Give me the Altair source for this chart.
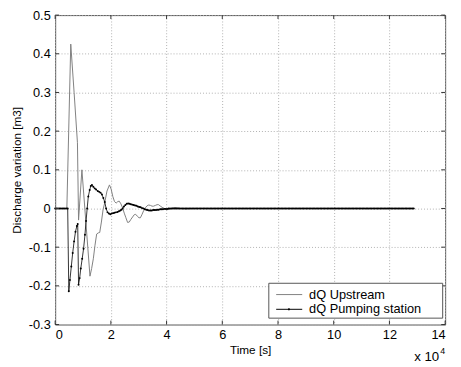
import altair as alt
import pandas as pd
import numpy as np

# ---- data (time in units of 1e4 s) ----
up_t = [0.0, 0.42, 0.56, 0.68, 0.80, 0.84, 0.96, 1.25, 1.31, 1.37, 1.43, 1.49, 1.55, 1.60,
        1.66, 1.72, 1.78, 1.86, 1.95, 2.01, 2.07, 2.13, 2.19, 2.25, 2.30, 2.36, 2.42, 2.48,
        2.54, 2.60, 2.66, 2.72, 2.78, 2.84, 2.89, 2.95, 3.01, 3.06, 3.12, 3.18, 3.24, 3.30,
        3.36, 3.42, 3.48, 3.53, 3.60, 3.66, 3.71, 3.78, 3.84, 3.90, 3.97, 4.05, 4.15, 4.25,
        4.35, 4.50, 4.70, 4.90, 5.20, 12.90]
up_v = [0.0, 0.0, 0.425, 0.30, 0.17, -0.03, 0.10, -0.175, -0.155, -0.13, -0.095, -0.066, -0.063, -0.062,
        -0.035, -0.003, 0.015, 0.045, 0.061, 0.05, 0.031, 0.018, 0.014, 0.018, 0.019, 0.012, 0.002, -0.012,
        -0.024, -0.036, -0.035, -0.028, -0.022, -0.016, -0.015, -0.02, -0.024, -0.024, -0.015, -0.005, 0.002, 0.007,
        0.009, 0.008, 0.006, 0.006, 0.008, 0.01, 0.01, 0.006, 0.003, 0.001, -0.002, -0.003, -0.001, 0.002,
        0.002, 0.0, -0.001, 0.0, 0.0, 0.0]

ps_t_active = [0.00, 0.05, 0.10, 0.15, 0.20, 0.25, 0.30, 0.35, 0.40, 0.45,
               0.49, 0.53, 0.58, 0.63, 0.68, 0.73, 0.78, 0.81, 0.84, 0.88, 0.92, 0.97,
               1.02, 1.07, 1.11, 1.15, 1.19, 1.24, 1.28, 1.32, 1.37, 1.42, 1.47, 1.53,
               1.58, 1.63, 1.68, 1.73, 1.78, 1.83, 1.88, 1.93, 1.98, 2.03, 2.08, 2.13,
               2.18, 2.24, 2.29, 2.34, 2.38, 2.42, 2.47, 2.52, 2.57, 2.62, 2.67, 2.72,
               2.77, 2.82, 2.87, 2.92, 2.97, 3.02, 3.07, 3.12, 3.17, 3.22, 3.27, 3.32,
               3.37, 3.42, 3.47, 3.52, 3.57, 3.62, 3.67, 3.72, 3.77, 3.82, 3.87, 3.92,
               3.97, 4.02, 4.07]
ps_v_active = [0.0, 0.0, 0.0, 0.0, 0.0, 0.0, 0.0, 0.0, 0.0, 0.0,
               -0.214, -0.185, -0.15, -0.115, -0.085, -0.06, -0.045, -0.04, -0.197, -0.18, -0.155, -0.13,
               -0.104, -0.068, -0.032, 0.0, 0.031, 0.048, 0.058, 0.061, 0.056, 0.052, 0.049, 0.045,
               0.043, 0.041, 0.036, 0.027, 0.017, 0.0, -0.01, -0.013, -0.015, -0.013, -0.012, -0.011,
               -0.01, -0.009, -0.007, -0.005, -0.003, 0.0, 0.005, 0.009, 0.012, 0.013, 0.012, 0.011,
               0.01, 0.009, 0.008, 0.007, 0.005, 0.004, 0.003, 0.001, 0.0, -0.002, -0.003, -0.004,
               -0.005, -0.005, -0.005, -0.004, -0.004, -0.004, -0.003, -0.003, -0.002, -0.002, -0.002, -0.001,
               -0.001, -0.001, 0.0]
# flat tail, read as zero, sampled at the same step as the markers
ps_t_tail = [round(x, 2) for x in np.arange(4.12, 12.90, 0.05)]
ps_v_tail = [0.0] * len(ps_t_tail)

x_ticks = [0, 2, 4, 6, 8, 10, 12, 14]
y_ticks = [-0.3, -0.2, -0.1, 0.0, 0.1, 0.2, 0.3, 0.4, 0.5]

series_names = ["dQ Upstream", "dQ Pumping station"]
x_title = "Time [s]"
y_title = "Discharge variation [m3]"

# ---- build ----
W, H = 397, 315
FONT = "Liberation Sans"

up_df = pd.DataFrame({"t": up_t, "v": up_v})
ps_df = pd.DataFrame({"t": ps_t_active + ps_t_tail, "v": ps_v_active + ps_v_tail})
xt_df = pd.DataFrame({"t": x_ticks})
yt_df = pd.DataFrame({"v": y_ticks})
one = pd.DataFrame({"a": [0]})

xs = alt.Scale(domain=[0, 14], nice=False, zero=False)
ys = alt.Scale(domain=[-0.3, 0.5], nice=False, zero=False)

x_axis = alt.Axis(values=x_ticks, title=x_title, grid=True, gridDash=[1, 2], gridColor="#b0b0b0",
                  gridOpacity=1, ticks=False, tickSize=0, domain=False, labelPadding=4, labelFontSize=13,
                  labelFont=FONT, labelColor="#000", titleFont=FONT, titleFontSize=12,
                  titleFontWeight="normal", titleColor="#000", titleX=W / 2, titleY=25,
                  titleBaseline="middle", titleAlign="center")
y_axis = alt.Axis(values=y_ticks, title=y_title, grid=True, gridDash=[1, 2], gridColor="#b0b0b0",
                  gridOpacity=1, ticks=False, tickSize=0, domain=False, labelPadding=5, labelFontSize=13,
                  labelFont=FONT, labelColor="#000",
                  labelExpr="toString(round(datum.value*10)/10)",
                  titleFont=FONT, titleFontSize=12, titleFontWeight="normal", titleColor="#000",
                  titleX=-39, titleY=H / 2, titleAngle=270, titleBaseline="middle", titleAlign="center")

X = alt.X("t:Q", scale=xs, axis=x_axis)
Y = alt.Y("v:Q", scale=ys, axis=y_axis)

up_line = alt.Chart(up_df).mark_line(color="#808080", strokeWidth=1).encode(
    x=X, y=Y, order="t:Q")
ps_line = alt.Chart(ps_df).mark_line(color="#000000", strokeWidth=0.8).encode(
    x=X, y=Y, order="t:Q")
ps_pts = alt.Chart(ps_df).mark_circle(color="#000000", size=4, opacity=1).encode(
    x=X, y=Y)

# inward ticks (MATLAB box style)
tick_col = "#333333"
xt_bot = alt.Chart(xt_df).mark_rule(color=tick_col, strokeWidth=1).encode(
    x=X, y=alt.value(H), y2=alt.value(H - 4))
xt_top = alt.Chart(xt_df).mark_rule(color=tick_col, strokeWidth=1).encode(
    x=X, y=alt.value(0), y2=alt.value(4))
yt_left = alt.Chart(yt_df).mark_rule(color=tick_col, strokeWidth=1).encode(
    y=Y, x=alt.value(0), x2=alt.value(4))
yt_right = alt.Chart(yt_df).mark_rule(color=tick_col, strokeWidth=1).encode(
    y=Y, x=alt.value(W), x2=alt.value(W - 4))

# legend box
leg_box = alt.Chart(one).mark_rect(fill="white", stroke="#555555", strokeWidth=1).encode(
    x=alt.value(217.5), x2=alt.value(394.5), y=alt.value(273), y2=alt.value(308.5))
leg_l1 = alt.Chart(one).mark_rule(color="#808080", strokeWidth=1).encode(
    x=alt.value(225), x2=alt.value(251.5), y=alt.value(284.5))
leg_l2 = alt.Chart(one).mark_rule(color="#000000", strokeWidth=1).encode(
    x=alt.value(225), x2=alt.value(251.5), y=alt.value(299.5))
leg_p2 = alt.Chart(one).mark_circle(color="#000000", size=5, opacity=1).encode(
    x=alt.value(238), y=alt.value(299.5))
leg_t1 = alt.Chart(one).mark_text(align="left", baseline="middle", font=FONT, fontSize=13,
                                  color="#000").encode(
    x=alt.value(258.5), y=alt.value(284.5), text=alt.value(series_names[0]))
leg_t2 = alt.Chart(one).mark_text(align="left", baseline="middle", font=FONT, fontSize=13,
                                  color="#000").encode(
    x=alt.value(258.5), y=alt.value(299.5), text=alt.value(series_names[1]))

# exponent label
exp_base = alt.Chart(one).mark_text(align="left", baseline="middle", font=FONT, fontSize=13.5,
                                    color="#000").encode(
    x=alt.value(365.5), y=alt.value(348), text=alt.value("x 10"))
exp_sup = alt.Chart(one).mark_text(align="left", baseline="middle", font=FONT, fontSize=9,
                                   color="#000").encode(
    x=alt.value(392), y=alt.value(341.5), text=alt.value("4"))

chart = alt.layer(
    up_line, ps_line, ps_pts, xt_bot, xt_top, yt_left, yt_right,
    leg_box, leg_l1, leg_l2, leg_p2, leg_t1, leg_t2, exp_base, exp_sup,
).properties(
    width=W, height=H,
    padding={"left": 48, "top": 4, "right": 8, "bottom": 40},
    autosize=alt.AutoSizeParams(type="none"),
    background="white",
).configure_view(
    stroke="#555555", strokeWidth=1,
)

chart.save("out.html", embed_options={"renderer": "svg", "actions": False})
